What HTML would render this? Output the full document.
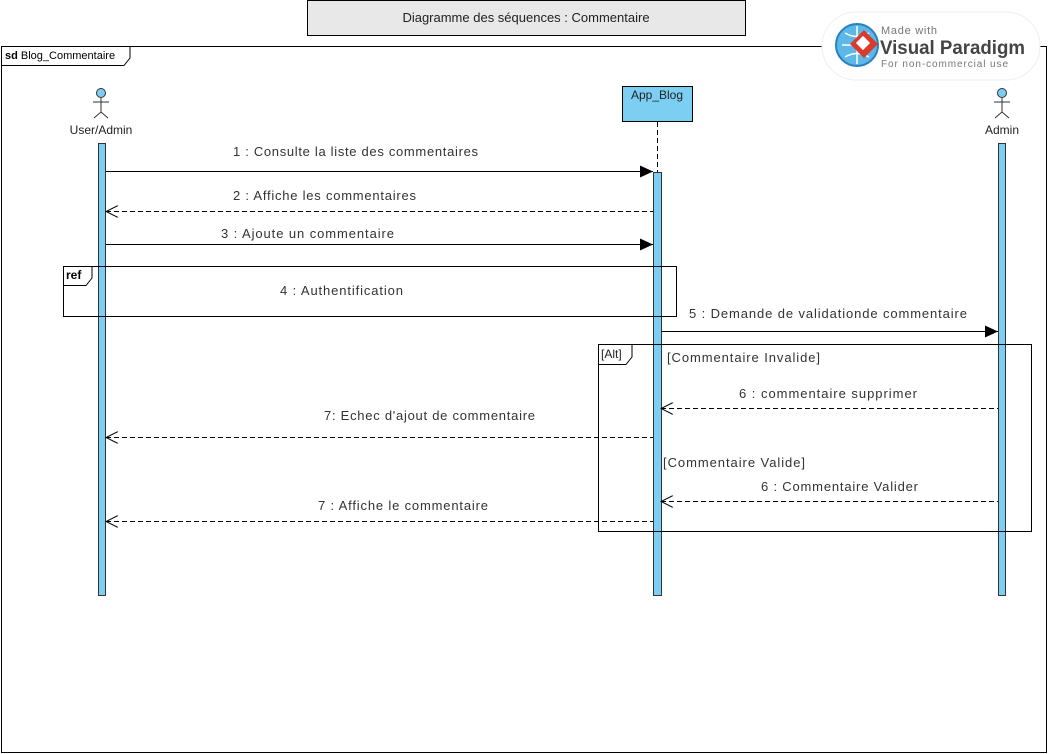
<!DOCTYPE html>
<html><head><meta charset="utf-8"><style>
html,body{margin:0;padding:0;background:#fff;}
svg{display:block;}
text{font-family:"Liberation Sans",sans-serif;}
.m{font-size:13px;fill:#333;}
</style></head><body>
<svg width="1048" height="754" viewBox="0 0 1048 754" xmlns="http://www.w3.org/2000/svg">
<defs>
<marker id="f" markerWidth="14" markerHeight="12" refX="13" refY="6" orient="auto" markerUnits="userSpaceOnUse"><path d="M0,0 L13,6 L0,12 z" fill="#000"/></marker>
<marker id="o" markerWidth="14" markerHeight="12" refX="1" refY="6" orient="auto" markerUnits="userSpaceOnUse"><path d="M13,0 L1,6 L13,12" fill="none" stroke="#000" stroke-width="1"/></marker>
</defs>
<!-- title -->
<rect x="307.5" y="0.5" width="438" height="35" fill="#e8e8e8" stroke="#000"/>
<text x="526" y="22" font-size="13" text-anchor="middle" fill="#222">Diagramme des séquences : Commentaire</text>
<!-- frame -->
<rect x="1.5" y="46.5" width="1045" height="706" fill="none" stroke="#000"/>
<path d="M1.5,65.5 H124 L130,58 V46.5" fill="none" stroke="#000"/>
<text x="5" y="59" font-size="11" fill="#000"><tspan font-weight="bold">sd</tspan> Blog_Commentaire</text>
<!-- logo -->
<rect x="822" y="12" width="218" height="68" rx="34" fill="#fff" stroke="#eee"/>
<circle cx="857" cy="45" r="21" fill="#5bb8e8" stroke="#2a7fbf" stroke-width="2"/>
<path d="M842,45 H872 M857,26 V64 M845,33 Q857,40 869,33 M845,57 Q857,50 869,57" stroke="#fff" stroke-width="1.5" fill="none"/>
<path d="M850,44 L864,30 L878,44 L864,58 z" fill="#d93a2b"/>
<rect x="858" y="38" width="10" height="10" fill="#fff" transform="rotate(45 863 43)"/>
<text x="881" y="34" font-size="11" fill="#777" textLength="56">Made with</text>
<text x="880" y="54" font-size="19" font-weight="bold" fill="#444" textLength="145" lengthAdjust="spacingAndGlyphs">Visual Paradigm</text>
<text x="881" y="67" font-size="10" fill="#777" textLength="127">For non-commercial use</text>
<!-- actors -->
<g stroke="#333" fill="none">
<circle cx="101" cy="93" r="4.5" fill="#7ccef3"/>
<path d="M101,98 V112 M93,102 H109 M94,118 L101,112 L108,118"/>
<circle cx="1002" cy="93" r="4.5" fill="#7ccef3"/>
<path d="M1002,98 V112 M994,102 H1010 M995,118 L1002,112 L1009,118"/>
</g>
<text x="101" y="134" font-size="12" text-anchor="middle" fill="#222">User/Admin</text>
<text x="1002" y="134" font-size="12" text-anchor="middle" fill="#222">Admin</text>
<!-- App_Blog -->
<rect x="622.5" y="86.5" width="70" height="35" fill="#7ccef3" stroke="#000"/>
<text x="657" y="99" font-size="12" text-anchor="middle" fill="#222">App_Blog</text>
<line x1="657.5" y1="122" x2="657.5" y2="172" stroke="#000" stroke-dasharray="5,3"/>
<!-- activations -->
<rect x="98.5" y="143.5" width="7" height="452" fill="#7ccef3" stroke="#333"/>
<rect x="653.5" y="172.5" width="8" height="423" fill="#7ccef3" stroke="#333"/>
<rect x="998.5" y="143.5" width="7" height="452" fill="#7ccef3" stroke="#333"/>
<!-- messages -->
<line x1="106" y1="171.5" x2="653" y2="171.5" stroke="#000" marker-end="url(#f)"/>
<text class="m" x="233" y="156" textLength="245">1 : Consulte la liste des commentaires</text>
<line x1="106" y1="211.5" x2="653" y2="211.5" stroke="#000" stroke-dasharray="5,3" marker-start="url(#o)"/>
<text class="m" x="233" y="200" textLength="183">2 : Affiche les commentaires</text>
<line x1="106" y1="244.5" x2="653" y2="244.5" stroke="#000" marker-end="url(#f)"/>
<text class="m" x="221" y="238" textLength="173">3 : Ajoute un commentaire</text>
<!-- ref -->
<rect x="63.5" y="266.5" width="613" height="50" fill="none" stroke="#000"/>
<path d="M63.5,285.5 H86 L92,278 V266.5" fill="none" stroke="#000"/>
<text x="66" y="279" font-size="12" font-weight="bold" fill="#000">ref</text>
<text class="m" x="280" y="295" textLength="123">4 : Authentification</text>
<line x1="661" y1="331.5" x2="998" y2="331.5" stroke="#000" marker-end="url(#f)"/>
<text class="m" x="689" y="318" textLength="278">5 : Demande de validationde commentaire</text>
<!-- alt -->
<rect x="598.5" y="344.5" width="433" height="187" fill="none" stroke="#000"/>
<path d="M598.5,364.5 H626 L632,357 V344.5" fill="none" stroke="#000"/>
<text x="601" y="358" font-size="12" fill="#222">[Alt]</text>
<text class="m" x="667" y="362" textLength="153">[Commentaire Invalide]</text>
<line x1="661" y1="408.5" x2="998" y2="408.5" stroke="#000" stroke-dasharray="5,3" marker-start="url(#o)"/>
<text class="m" x="739" y="398" textLength="178">6 : commentaire supprimer</text>
<line x1="106" y1="437.5" x2="653" y2="437.5" stroke="#000" stroke-dasharray="5,3" marker-start="url(#o)"/>
<text class="m" x="324" y="420" textLength="211">7: Echec d'ajout de commentaire</text>
<text class="m" x="663" y="467" textLength="142">[Commentaire Valide]</text>
<line x1="661" y1="501.5" x2="998" y2="501.5" stroke="#000" stroke-dasharray="5,3" marker-start="url(#o)"/>
<text class="m" x="761" y="491" textLength="157">6 : Commentaire Valider</text>
<line x1="106" y1="521.5" x2="653" y2="521.5" stroke="#000" stroke-dasharray="5,3" marker-start="url(#o)"/>
<text class="m" x="318" y="510" textLength="170">7 : Affiche le commentaire</text>
</svg>
</body></html>
